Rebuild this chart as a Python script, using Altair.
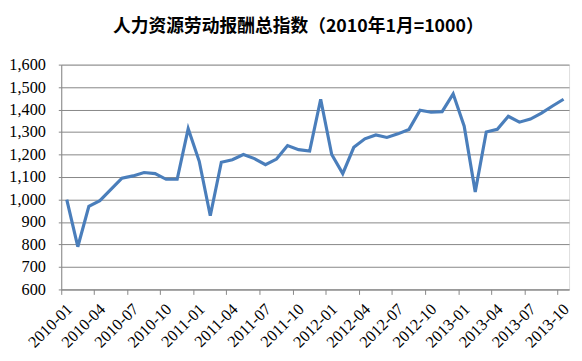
import altair as alt
import pandas as pd

years = [2010, 2011, 2012, 2013]
months = [f"{y}-{m:02d}" for y in years for m in range(1, 13)][:46]

values = [1000, 790, 970, 995, 1045, 1095, 1105, 1120, 1115, 1090, 1090, 1315,
          1170, 928, 1166, 1177, 1200, 1182, 1155, 1180, 1240, 1222, 1216, 1446,
          1200, 1115, 1232, 1270, 1287, 1276, 1292, 1312, 1397, 1388, 1391, 1470,
          1326, 1034, 1300, 1312, 1370, 1344, 1358, 1384, 1416, 1446]

tick_months = months[::3]
y_ticks = list(range(600, 1601, 100))

df = pd.DataFrame({"month": months, "value": values})

chart = alt.Chart(df).mark_line(color="#4a7ebb", strokeWidth=3.2, strokeJoin="miter").encode(
    x=alt.X("month:O", sort=months,
            scale=alt.Scale(type="band", paddingInner=0, paddingOuter=0),
            axis=alt.Axis(values=tick_months, bandPosition=0, title=None,
                          labelAngle=-45, labelAlign="right", labelBaseline="middle",
                          labelFont="Liberation Serif", labelFontSize=16.5, labelColor="#000000",
                          labelPadding=12, labelOffset=3, tickSize=5, tickColor="#868686",
                          domainColor="#868686", grid=False, labelOverlap=False)),
    y=alt.Y("value:Q", scale=alt.Scale(domain=[600, 1600], nice=False, zero=False),
            axis=alt.Axis(values=y_ticks, format=",d", title=None,
                          labelFont="Liberation Serif", labelFontSize=16.5, labelColor="#000000",
                          labelPadding=13, tickSize=3, tickColor="#868686",
                          domainColor="#868686", gridColor="#868686", gridWidth=1,
                          gridOpacity=1)),
).properties(
    width=515, height=228,
    title=alt.TitleParams("人力资源劳动报酬总指数（2010年1月=1000）",
                          font="Noto Sans CJK SC", fontSize=18, fontWeight="bold",
                          color="#000000", anchor="middle", offset=21, dx=-17),
    autosize=alt.AutoSizeParams(type="none"),
    padding={"left": 54, "top": 55, "right": 5, "bottom": 60},
).configure_view(stroke=None).configure(background="white")

chart.save("out.html", embed_options={"renderer": "svg", "actions": False})
